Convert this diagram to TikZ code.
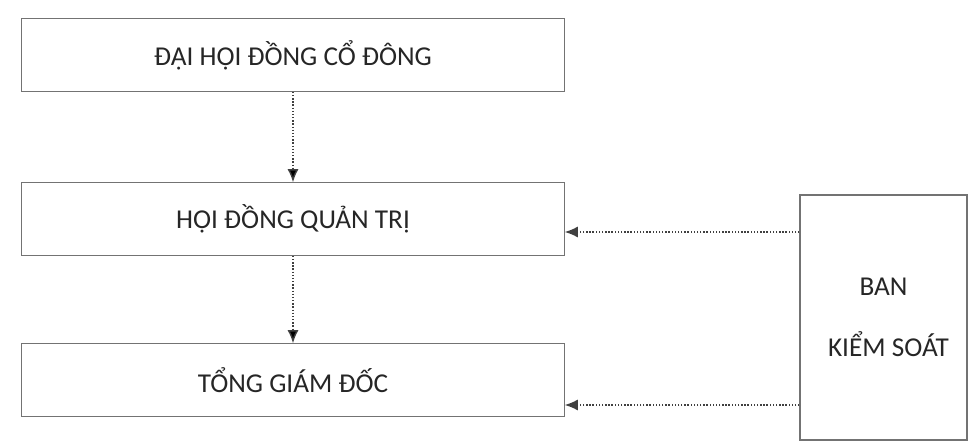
\documentclass[tikz,border=0pt]{standalone}
\usepackage{fontspec}
\setmainfont{Carlito}
\usepackage{tikz}
\usetikzlibrary{shapes, calc, arrows.meta}
\tikzstyle{widenode}=[
    draw=black!55,  % draw the border in grey
    rectangle,      % the shape of the node is a rectangle
    line width=0.6pt,
    minimum width=10.85cm,
    minimum height=1.45cm,
    text=black!85,
    font=\fontsize{15.5}{18}\selectfont]
\tikzstyle{tallnode}=[
    draw=black!55,  % draw the border in grey
    rectangle,      % the shape of the node is a rectangle
    line width=0.6pt,
    minimum width=3.34cm,
    minimum height=4.9cm,
    align=center,
    text=black!85,
    font=\fontsize{15.5}{18}\selectfont]
\tikzstyle{linkline}=[
    densely dotted, % dotted connector as in the scan
    draw=black!75,
    line width=0.8pt]

\begin{document}
\begin{tikzpicture}[->,>={Latex[length=2.6mm,width=2.2mm]}]
        \useasboundingbox (0,0) rectangle (19.48,-8.9);

        % Draw the vertices.
        \node[widenode] (dh) at (5.86,-1.1) {ĐẠI HỘI ĐỒNG CỔ ĐÔNG};
        \node[widenode, below of=dh, node distance=3.28cm] (qt) {HỘI ĐỒNG QUẢN TRỊ};
        \node[widenode, below of=qt, node distance=3.22cm] (tg) {TỔNG GIÁM ĐỐC};
        \node[tallnode] (ks) at (17.67,-6.35) {BAN\\[0.6cm]\hspace*{0.2cm}KIỂM SOÁT};
        \coordinate (kq) at (0,-4.64);
        \coordinate (kt) at (0,-8.1);

        % Connect vertices with edges
        \path[linkline] (dh) edge node {} (qt);
        \path[linkline] (qt) edge node {} (tg);
        \draw[linkline] (ks.west |- kq) -- (qt.east |- kq);
        \draw[linkline] (ks.west |- kt) -- (tg.east |- kt);
\end{tikzpicture}
\end{document}
